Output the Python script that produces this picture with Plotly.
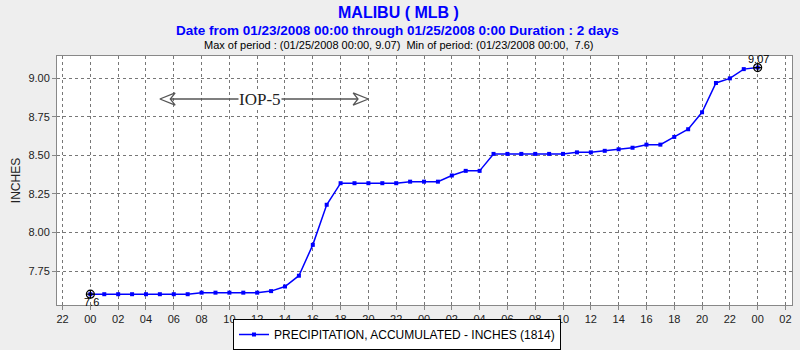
import plotly.graph_objects as go

# hours since 01/23/2008 00:00
hours = list(range(0, 49))
precip = [7.60, 7.60, 7.60, 7.60, 7.60, 7.60, 7.60, 7.60,
          7.61, 7.61, 7.61, 7.61, 7.61, 7.62, 7.65, 7.72,
          7.92, 8.18, 8.32, 8.32, 8.32, 8.32, 8.32, 8.33,
          8.33, 8.33, 8.37, 8.40, 8.40, 8.51, 8.51, 8.51,
          8.51, 8.51, 8.51, 8.52, 8.52, 8.53, 8.54, 8.55,
          8.57, 8.57, 8.62, 8.67, 8.78, 8.97, 9.00, 9.06, 9.07]

tick_hours = list(range(-2, 51, 2))
tick_labels = ["22", "00", "02", "04", "06", "08", "10", "12", "14", "16", "18", "20", "22",
               "00", "02", "04", "06", "08", "10", "12", "14", "16", "18", "20", "22", "00", "02"]

y_ticks = [7.75, 8.00, 8.25, 8.50, 8.75, 9.00]

min_hour, min_val = 0, 7.6
max_hour, max_val = 48, 9.07

iop_start, iop_end, iop_y = 5, 20, 8.866
iop_label = "IOP-5"

series_name = "PRECIPITATION, ACCUMULATED - INCHES (1814)"

fig = go.Figure()

fig.add_trace(go.Scatter(
    x=hours, y=precip, mode="lines+markers", name=series_name,
    line=dict(color="#0000FF", width=1.5),
    marker=dict(symbol="square", size=4, color="#0000FF"),
))

# extreme markers
fig.add_trace(go.Scatter(
    x=[min_hour, max_hour], y=[min_val, max_val], mode="markers",
    marker=dict(symbol="circle-cross-open", size=8, color="black", line=dict(width=1.2)),
    showlegend=False, hoverinfo="skip",
))

# IOP arrow shaft and heads (in data units)
hw = 1.1   # head length in hours
hh = 0.04  # head half-height in inches
notch = 0.75
arrow_x = [iop_start + hw, iop_start, iop_start + hw, iop_start + notch, iop_start + hw, None,
           iop_start + notch, iop_end - notch, None,
           iop_end - hw, iop_end, iop_end - hw, iop_end - notch, iop_end - hw]
arrow_y = [iop_y + hh, iop_y, iop_y - hh, iop_y, iop_y + hh, None,
           iop_y, iop_y, None,
           iop_y + hh, iop_y, iop_y - hh, iop_y, iop_y + hh]
fig.add_trace(go.Scatter(
    x=arrow_x, y=arrow_y, mode="lines",
    line=dict(color="#555555", width=1.3),
    showlegend=False, hoverinfo="skip",
))

fig.add_annotation(x=(iop_start + iop_end) / 2 - 0.3, y=iop_y, text=iop_label, showarrow=False,
                   font=dict(family="Liberation Serif", size=17, color="#222222"),
                   bgcolor="white", borderpad=0)

fig.add_annotation(x=min_hour, y=min_val, text=str(min_val), showarrow=False,
                   yshift=-8, xshift=1, font=dict(family="Liberation Sans", size=11, color="black"))
fig.add_annotation(x=max_hour, y=max_val, text=str(max_val), showarrow=False,
                   yshift=9, xshift=1, font=dict(family="Liberation Sans", size=11, color="black"))

# titles
fig.add_annotation(xref="paper", yref="paper", x=(398 - 57) / 735, y=1 + (56 - 12) / 249,
                   text="<b>MALIBU ( MLB )</b>", showarrow=False, yanchor="middle",
                   font=dict(family="Liberation Sans Narrow, Liberation Sans", size=16, color="#0000FF"))
fig.add_annotation(xref="paper", yref="paper", x=(397 - 57) / 735, y=1 + (56 - 30) / 249,
                   text="<b>Date from 01/23/2008 00:00 through 01/25/2008 0:00 Duration : 2 days</b>",
                   showarrow=False, yanchor="middle",
                   font=dict(family="Liberation Sans Narrow, Liberation Sans", size=13.5, color="#0000FF"))
fig.add_annotation(xref="paper", yref="paper", x=(399 - 57) / 735, y=1 + (56 - 45) / 249,
                   text="Max of period : (01/25/2008 00:00, 9.07)  Min of period: (01/23/2008 00:00,  7.6)",
                   showarrow=False, yanchor="middle",
                   font=dict(family="Liberation Sans Narrow, Liberation Sans", size=11, color="black"))

fig.update_layout(
    width=800, height=350,
    margin=dict(l=57, r=8, t=56, b=45, autoexpand=False),
    paper_bgcolor="#EEEEEE", plot_bgcolor="white",
    font=dict(family="Liberation Sans", size=11, color="#333333"),
    showlegend=True,
    legend=dict(orientation="h", xref="container", yref="container",
                x=397 / 800, xanchor="center",
                y=1 - 319 / 350, yanchor="top", itemwidth=30,
                bgcolor="white", bordercolor="black", borderwidth=1,
                font=dict(family="Liberation Sans", size=12, color="black")),
    xaxis=dict(range=[-2.4, 50.47], tickmode="array", tickvals=tick_hours, ticktext=tick_labels,
               showgrid=True, gridcolor="#777777", griddash="dot", gridwidth=1,
               showline=True, linecolor="#888888", linewidth=1, mirror=True,
               ticks="outside", ticklen=4, tickcolor="#888888", zeroline=False,
               tickfont=dict(size=11, color="#222222")),
    yaxis=dict(range=[7.53, 9.145], tickmode="array", tickvals=y_ticks, tickformat=".2f",
               showgrid=True, gridcolor="#777777", griddash="dot", gridwidth=1,
               showline=True, linecolor="#888888", linewidth=1, mirror=True,
               ticks="outside", ticklen=4, tickcolor="#888888", zeroline=False,
               title=dict(text="INCHES", font=dict(size=12, color="#222222"), standoff=5),
               tickfont=dict(size=11, color="#222222")),
)

fig.write_html("out.html")
